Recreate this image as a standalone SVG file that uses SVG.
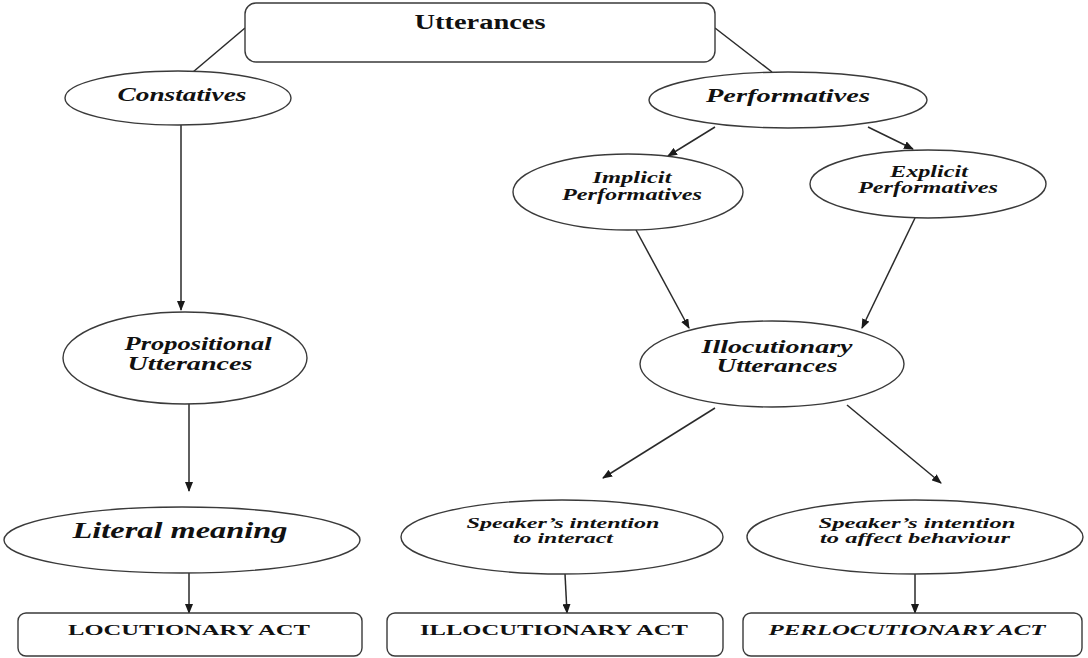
<svg xmlns="http://www.w3.org/2000/svg" width="1088" height="658" viewBox="0 0 1088 658">
<style>
.shape{fill:#fff;stroke:#3a3a3a;stroke-width:1.4}
.t{font-family:"Liberation Serif","Times New Roman",serif;font-weight:bold;font-style:italic;fill:#111;text-anchor:middle}
.u{font-family:"Liberation Serif","Times New Roman",serif;font-weight:bold;fill:#111;text-anchor:middle}
.c{stroke:#2a2a2a;stroke-width:1.5;fill:none}
</style>
<defs>
<marker id="ah" markerUnits="userSpaceOnUse" markerWidth="10" markerHeight="8" refX="9" refY="4" orient="auto">
<path d="M0,0 L10,4 L0,8 z" fill="#1a1a1a"/>
</marker>
</defs>
<rect width="1088" height="658" fill="#fff"/>
<g id="connectors">
<line class="c" x1="245" y1="28" x2="193" y2="72"/>
<line class="c" x1="715" y1="28" x2="772" y2="72"/>
<line class="c" x1="181" y1="125" x2="181" y2="310" marker-end="url(#ah)"/>
<line class="c" x1="189" y1="404" x2="189" y2="491" marker-end="url(#ah)"/>
<line class="c" x1="189" y1="573" x2="189" y2="613" marker-end="url(#ah)"/>
<line class="c" x1="715" y1="127" x2="668" y2="156" marker-end="url(#ah)"/>
<line class="c" x1="868" y1="127" x2="913" y2="149" marker-end="url(#ah)"/>
<line class="c" x1="636" y1="230" x2="689" y2="328" marker-end="url(#ah)"/>
<line class="c" x1="915" y1="218" x2="862" y2="328" marker-end="url(#ah)"/>
<line class="c" x1="715" y1="408" x2="603" y2="478" marker-end="url(#ah)"/>
<line class="c" x1="847" y1="405" x2="941" y2="483" marker-end="url(#ah)"/>
<line class="c" x1="565" y1="574" x2="567" y2="613" marker-end="url(#ah)"/>
<line class="c" x1="915" y1="574" x2="915" y2="613" marker-end="url(#ah)"/>
</g>
<g id="utterances">
<rect class="shape" x="245" y="3" width="470" height="59" rx="11"/>
<text class="u" x="480" y="29" font-size="20" textLength="131" lengthAdjust="spacingAndGlyphs">Utterances</text>
</g>
<g id="constatives">
<ellipse class="shape" cx="178" cy="98" rx="113" ry="27"/>
<text class="t" x="182" y="101" font-size="19" textLength="129" lengthAdjust="spacingAndGlyphs">Constatives</text>
</g>
<g id="performatives">
<ellipse class="shape" cx="788" cy="100" rx="139" ry="28"/>
<text class="t" x="788" y="102" font-size="19" textLength="164" lengthAdjust="spacingAndGlyphs">Performatives</text>
</g>
<g id="implicit">
<ellipse class="shape" cx="628" cy="192" rx="115" ry="38"/>
<text class="t" x="632" y="183" font-size="16" textLength="79" lengthAdjust="spacingAndGlyphs">Implicit</text>
<text class="t" x="632" y="200" font-size="16" textLength="140" lengthAdjust="spacingAndGlyphs">Performatives</text>
</g>
<g id="explicit">
<ellipse class="shape" cx="928" cy="184" rx="118" ry="34"/>
<text class="t" x="929" y="177" font-size="16" textLength="78" lengthAdjust="spacingAndGlyphs">Explicit</text>
<text class="t" x="928" y="193" font-size="16" textLength="140" lengthAdjust="spacingAndGlyphs">Performatives</text>
</g>
<g id="propositional">
<ellipse class="shape" cx="185" cy="358" rx="122" ry="46"/>
<text class="t" x="198" y="350" font-size="18" textLength="147" lengthAdjust="spacingAndGlyphs">Propositional</text>
<text class="t" x="190" y="370" font-size="18" textLength="125" lengthAdjust="spacingAndGlyphs">Utterances</text>
</g>
<g id="illocutionary-utterances">
<ellipse class="shape" cx="772" cy="364" rx="132" ry="43"/>
<text class="t" x="777" y="353" font-size="18" textLength="151" lengthAdjust="spacingAndGlyphs">Illocutionary</text>
<text class="t" x="777" y="372" font-size="18" textLength="121" lengthAdjust="spacingAndGlyphs">Utterances</text>
</g>
<g id="literal">
<ellipse class="shape" cx="182" cy="540" rx="178" ry="33"/>
<text class="t" x="180" y="538" font-size="24" textLength="215" lengthAdjust="spacingAndGlyphs">Literal meaning</text>
</g>
<g id="intention-interact">
<ellipse class="shape" cx="562" cy="537" rx="161" ry="37"/>
<text class="t" x="563" y="528" font-size="14" textLength="193" lengthAdjust="spacingAndGlyphs">Speaker’s intention</text>
<text class="t" x="563" y="543" font-size="14" textLength="100" lengthAdjust="spacingAndGlyphs">to interact</text>
</g>
<g id="intention-affect">
<ellipse class="shape" cx="915" cy="537" rx="168" ry="37"/>
<text class="t" x="917" y="528" font-size="14" textLength="197" lengthAdjust="spacingAndGlyphs">Speaker’s intention</text>
<text class="t" x="915" y="543" font-size="14" textLength="190" lengthAdjust="spacingAndGlyphs">to affect behaviour</text>
</g>
<g id="locutionary-act">
<rect class="shape" x="18" y="613" width="344" height="43" rx="8"/>
<text class="u" x="189" y="635" font-size="15" textLength="242" lengthAdjust="spacingAndGlyphs">LOCUTIONARY ACT</text>
</g>
<g id="illocutionary-act">
<rect class="shape" x="387" y="613" width="336" height="43" rx="8"/>
<text class="u" x="554" y="635" font-size="15" textLength="268" lengthAdjust="spacingAndGlyphs">ILLOCUTIONARY ACT</text>
</g>
<g id="perlocutionary-act">
<rect class="shape" x="743" y="613" width="339" height="43" rx="8"/>
<text class="t" x="907" y="635" font-size="15" textLength="277" lengthAdjust="spacingAndGlyphs">PERLOCUTIONARY ACT</text>
</g>
</svg>
